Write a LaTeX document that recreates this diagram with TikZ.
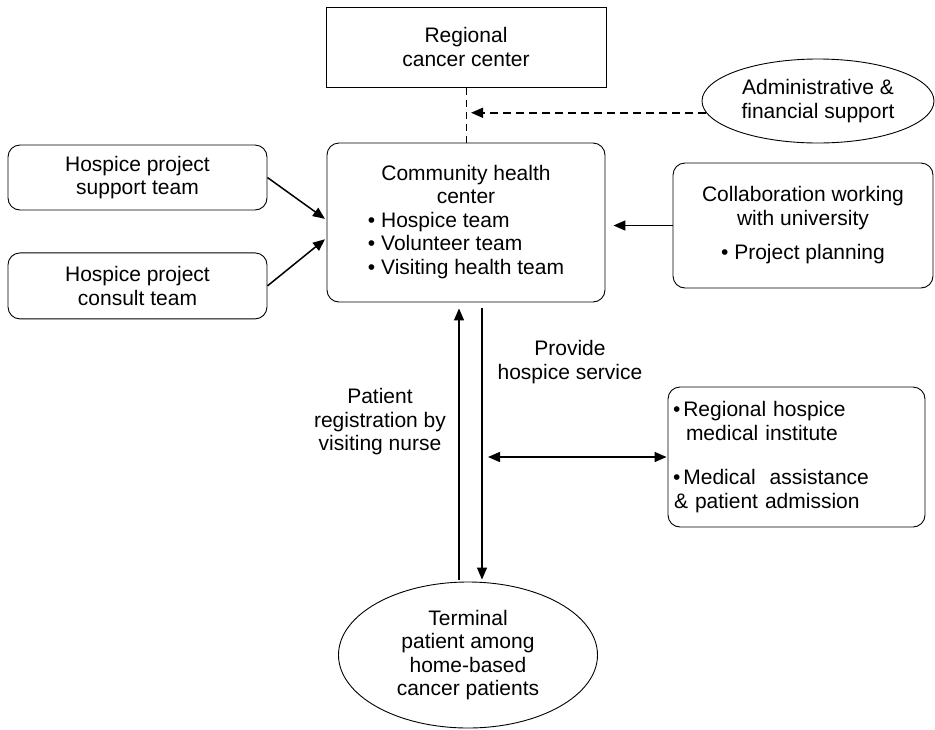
\documentclass[tikz,border=0pt]{standalone}
\usepackage{fontspec}
\setmainfont{Liberation Sans}
\usetikzlibrary{arrows.meta,positioning,calc,shapes.geometric}

\begin{document}
\begin{tikzpicture}[x=1pt,y=-1pt, every node/.style={font=\fontsize{21}{23.5}\selectfont}, box/.style={draw,line width=.9pt,minimum width=280pt,minimum height=80pt,align=center}, rbox/.style={draw,line width=.9pt,rounded corners=12pt,align=center}, oval/.style={draw,ellipse,line width=.9pt,inner sep=0pt,align=center}, arr/.style={-{Triangle[length=12pt,width=10pt]},line width=1.5pt}, dashline/.style={line width=.9pt,dash pattern=on 7pt off 5pt}]
\useasboundingbox (0,0) rectangle (935,729);
\node[rbox,minimum width=278pt,minimum height=159pt] (comm) at (466,222.5) {\begin{tabular}{@{}l@{}}\multicolumn{1}{@{}c@{}}{Community health}\\\multicolumn{1}{@{}c@{}}{center}\\• Hospice team\\• Volunteer team\\• Visiting health team\end{tabular}};
\node[box,above=55pt of comm] (rcc) {Regional\\cancer center};
\node[oval,minimum width=232pt,minimum height=84pt] (adm) at (818,101) {Administrative \&\\financial support};
\node[rbox,minimum width=259pt,minimum height=65pt] (sup) at (137.5,177.5) {Hospice project\\support team};
\node[rbox,minimum width=259pt,minimum height=66pt,below=42pt of sup] (con) {Hospice project\\consult team};
\node[rbox,minimum width=260pt,minimum height=125pt] (colab) at (803,225.5) {Collaboration working\\with university\\[11pt]• Project planning};
\node[rbox,align=left,text width=247pt,inner xsep=5pt,minimum height=140pt] (inst) at (796.5,457) {•\hspace{3pt}Regional hospice\\\hspace*{13pt}medical institute\\[21pt]•\hspace{3pt}Medical~ assistance\\\hspace*{1pt}\& patient admission};
\node[oval,minimum width=259pt,minimum height=146pt] (term) at (468,655) {Terminal\\patient among\\home-based\\cancer patients};
\node[align=center] (prov) at (570,362) {Provide\\hospice service};
\node[align=center] (regnurse) at (380,422) {Patient\\registration by\\visiting nurse};
% connectors
\coordinate (tap) at ($(rcc.south)!.5!(comm.north)$);
\draw[dashline] (rcc.south) -- (comm.north);
\draw[arr,dashline,line width=1.5pt,dash pattern=on 8pt off 5pt,shorten >=5pt] (adm.186) -- (adm.186 -| tap);
\foreach \s/\d in {sup/2.5,con/-15.5}{\draw[arr,shorten >=2pt] (\s.east) -- ([yshift=\d pt]comm.west);}
\draw[arr,shorten >=8pt] (colab.west) -- (colab.west -| comm.east);
\draw[arr,shorten <=2pt,shorten >=6pt] ([xshift=-9pt]term.north) -- ([xshift=-7pt]comm.south);
\coordinate (dn) at ([xshift=16pt]comm.south);
\draw[arr,shorten <=6pt,shorten >=2pt] (dn) -- (dn |- term.north);
\draw[{Triangle[length=12pt,width=10pt]}-{Triangle[length=12pt,width=10pt]},line width=1.5pt,shorten <=6pt,shorten >=1pt] (inst.west -| dn) -- (inst.west);
\end{tikzpicture}
\end{document}
